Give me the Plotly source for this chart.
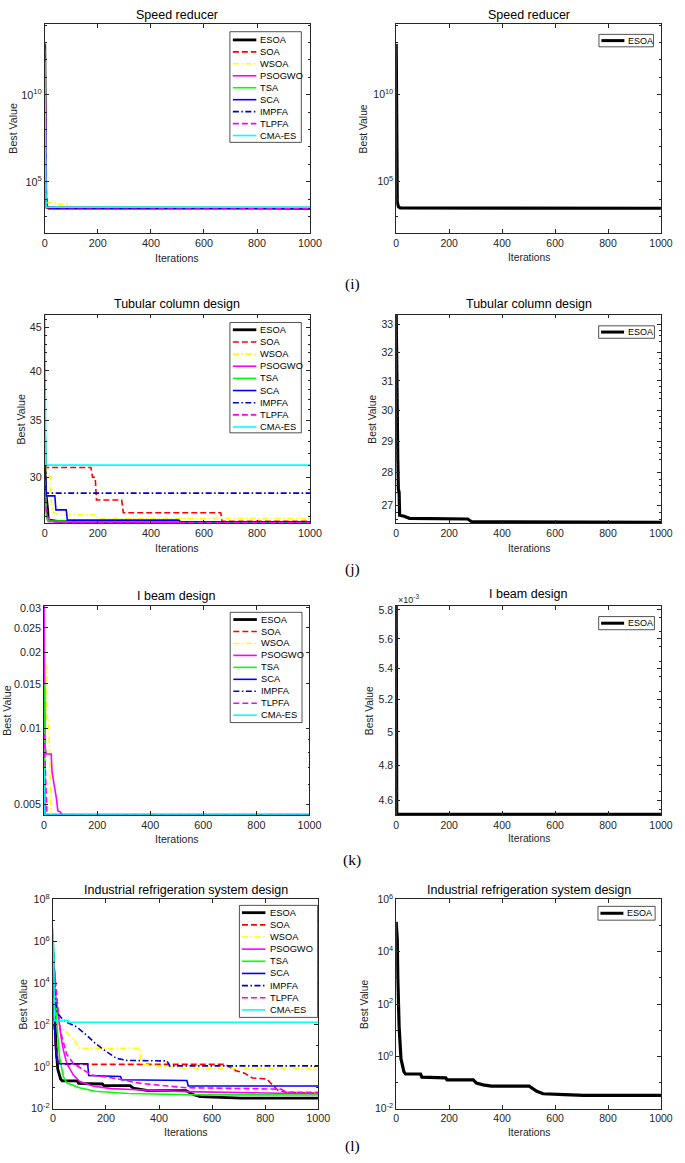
import numpy as np
import plotly.graph_objects as go

W, H = 685, 1163

ALGOS = ["ESOA", "SOA", "WSOA", "PSOGWO", "TSA", "SCA", "IMPFA", "TLPFA", "CMA-ES"]
COLORS = ["#000000", "#FF0000", "#FFFF00", "#FF00FF", "#00FF00",
          "#0000FF", "#0000D0", "#FF00FF", "#00FFFF"]
DASHES = ["solid", "6px,3px", "6px,2.5px,1.5px,2.5px", "solid", "solid",
          "solid", "6px,2.5px,1.5px,2.5px", "6px,3px", "solid"]
WIDTHS = [2.8, 1.6, 1.6, 1.6, 1.6, 1.6, 1.6, 1.6, 1.6]

X_TICKS = [0, 200, 400, 600, 800, 1000]

# convergence curves: (iterations, best value)
speed_reducer = {
    "ESOA": ([0, 2, 4, 8, 15, 1000], [8.7e12, 6e4, 7000, 3700, 3100, 2994]),
    "SOA": ([0, 3, 6, 12, 1000], [2e11, 1e6, 2e4, 3100, 3000]),
    "WSOA": ([0, 3, 5, 40, 45, 90, 100, 1000], [1e11, 3e5, 6200, 6200, 5000, 5000, 3400, 3100]),
    "PSOGWO": ([0, 3, 6, 1000], [8.7e12, 1e6, 3500, 3000]),
    "TSA": ([0, 3, 6, 1000], [5e10, 1e5, 3500, 3050]),
    "SCA": ([0, 2, 5, 15, 20, 1000], [3e11, 1e6, 3600, 3500, 3000, 2995]),
    "IMPFA": ([0, 3, 6, 1000], [1e11, 1e5, 3200, 3000]),
    "TLPFA": ([0, 3, 6, 1000], [4e12, 1e6, 3300, 3000]),
    "CMA-ES": ([0, 2, 5, 1000], [8e11, 1e6, 3500, 3400]),
}

tubular_column = {
    "ESOA": ([0, 3, 6, 8, 11, 13, 30, 50, 200, 205, 270, 285, 505, 525, 1000],
             [33.37, 28.6, 28.4, 27.5, 27.4, 26.71, 26.68, 26.62, 26.62, 26.6, 26.6,
              26.52, 26.52, 26.5, 26.5]),
    "SOA": ([0, 4, 174, 180, 190, 195, 290, 296, 663, 668, 1000],
            [31.0, 30.8, 30.8, 30.0, 30.0, 28.2, 28.2, 27.25, 27.25, 26.62, 26.62]),
    "WSOA": ([0, 5, 20, 25, 31, 56, 192, 200, 1000],
             [32.0, 30.1, 30.1, 28.0, 27.3, 27.1, 27.1, 26.82, 26.82]),
    "PSOGWO": ([0, 3, 8, 15, 1000], [30.5, 28.0, 26.9, 26.6, 26.52]),
    "TSA": ([0, 2, 6, 12, 510, 520, 1000], [31.0, 28.5, 27.0, 26.66, 26.64, 26.52, 26.51]),
    "SCA": ([0, 3, 6, 38, 42, 81, 85, 505, 510, 1000],
            [31.5, 29.0, 28.52, 28.52, 27.46, 27.46, 26.71, 26.71, 26.59, 26.59]),
    "IMPFA": ([0, 3, 8, 1000], [30.0, 29.0, 28.73, 28.73]),
    "TLPFA": ([0, 3, 8, 20, 50, 1000], [29.8, 28.0, 27.0, 26.7, 26.55, 26.53]),
    "CMA-ES": ([0, 4, 1000], [46.6, 31.0, 31.0]),
}

i_beam = {
    "ESOA": ([0, 2, 1000], [0.00583, 0.004523, 0.004523]),
    "SOA": ([0, 3, 1000], [0.0062, 0.004525, 0.004523]),
    "WSOA": ([0, 8, 10, 17, 27, 1000],
             [0.0177, 0.0177, 0.011, 0.011, 0.004525, 0.004523]),
    "PSOGWO": ([0, 4, 8, 27, 30, 40, 46, 52, 62, 68, 1000],
               [0.0306, 0.0085, 0.0079, 0.0079, 0.0067, 0.0059, 0.0053, 0.0047,
                0.00465, 0.004525, 0.004523]),
    "TSA": ([0, 2, 5, 1000], [0.0151, 0.0095, 0.004525, 0.004523]),
    "SCA": ([0, 2, 1000], [0.0055, 0.004525, 0.004523]),
    "IMPFA": ([0, 3, 1000], [0.0056, 0.004525, 0.004523]),
    "TLPFA": ([0, 4, 8, 11, 1000], [0.0095, 0.0075, 0.006, 0.004525, 0.004523]),
    "CMA-ES": ([0, 3, 1000], [0.0069, 0.004525, 0.004523]),
}

refrigeration = {
    "ESOA": ([0, 4, 6, 11, 18, 23, 29, 35, 92, 97, 144, 150, 187, 192, 291, 303, 328,
              359, 502, 531, 555, 635, 709, 1000],
             [1.4e5, 3e4, 1.1e3, 14, 0.8, 0.44, 0.26, 0.21, 0.21, 0.16, 0.16, 0.15, 0.15,
              0.126, 0.126, 0.095, 0.081, 0.072, 0.072, 0.046, 0.037, 0.034, 0.032, 0.032]),
    "SOA": ([0, 3, 6, 10, 18, 28, 50, 648, 690, 721, 752, 807, 826, 850, 881, 1000],
            [300, 100, 40, 12, 3, 1.4, 1.3, 1.3, 0.65, 0.5, 0.29, 0.26, 0.14, 0.072,
             0.06, 0.055]),
    "WSOA": ([2, 8, 15, 25, 43, 70, 89, 100, 328, 334, 440, 500, 1000],
             [2e3, 600, 150, 100, 55, 26, 13, 7.6, 7.6, 1.3, 1.0, 0.85, 0.85]),
    "PSOGWO": ([0, 10, 20, 30, 40, 52, 76, 100, 150, 220, 320, 500, 1000],
               [3e5, 3e3, 300, 30, 6, 1.5, 0.42, 0.2, 0.12, 0.09, 0.08, 0.065, 0.05]),
    "TSA": ([0, 8, 15, 25, 39, 52, 100, 160, 285, 530, 1000],
            [2e6, 1e4, 110, 3, 0.35, 0.17, 0.1, 0.068, 0.053, 0.046, 0.045]),
    "SCA": ([0, 3, 8, 12, 20, 131, 135, 255, 260, 505, 510, 1000],
            [1e6, 1e4, 30, 3, 1.4, 1.4, 0.38, 0.34, 0.24, 0.22, 0.12, 0.12]),
    "IMPFA": ([1, 8, 15, 30, 50, 90, 130, 160, 200, 240, 280, 430, 440, 1000],
              [1.2e6, 3e3, 400, 230, 140, 80, 30, 13, 5.5, 2.5, 2.0, 1.9, 1.1, 1.1]),
    "TLPFA": ([3, 15, 25, 33, 52, 76, 107, 145, 220, 330, 500, 860, 880, 1000],
              [1e5, 3e3, 100, 30, 4, 1.5, 0.8, 0.4, 0.3, 0.16, 0.1, 0.085, 0.06, 0.06]),
    "CMA-ES": ([0, 3, 6, 58, 60, 1000], [4e6, 3e5, 160, 160, 135, 135]),
}


def px(x):
    return x / W


def py(y):
    return 1 - y / H


def sup(e):
    return f"10<sup>{e}</sup>"


rows = [
    dict(title="Speed reducer", data=speed_reducer, top=16, bottom=228,
         left=(42.7, 314), title_y=(7, 7), xlab_y=(253, 253), ylab_x=(9.3, 369),
         tag="(i)", tag_y=279,
         yl=dict(range=[2.04, 14.08], tickvals=[1e5, 1e10], ticktext=[sup(5), sup(10)],
                 minor=[10.0 ** k for k in range(3, 15) if k not in (5, 10)]),
         yr=dict(range=[2.04, 14.08], tickvals=[1e5, 1e10], ticktext=[sup(5), sup(10)],
                 minor=[10.0 ** k for k in range(3, 15) if k not in (5, 10)]),
         leg=(232, 24, 305, 136, 32.3, 12.1, 235, 259, 261),
         rleg=(609.3, 26.7, 665, 39.3, 33)),
    dict(title="Tubular column design", data=tubular_column, top=310.3, bottom=521.7,
         left=(42.7, 314), title_y=(300, 300), xlab_y=(546.7, 546.7), ylab_x=(18, 378),
         tag="(j)", tag_y=568,
         yl=dict(range=[np.log10(26.47), np.log10(46.6)], tickvals=[30, 35, 40, 45],
                 ticktext=["30", "35", "40", "45"],
                 minor=[v for v in range(27, 47) if v % 5]),
         yr=dict(range=[np.log10(26.47), np.log10(33.37)],
                 tickvals=[27, 28, 29, 30, 31, 32, 33],
                 ticktext=["27", "28", "29", "30", "31", "32", "33"],
                 minor=[round(26.6 + 0.2 * k, 1) for k in range(34) if (k + 2) % 5]),
         leg=(232, 318.3, 305, 430, 325.7, 12.3, 235, 259, 261),
         rleg=(609, 321.7, 666, 334.3, 328)),
    dict(title="I beam design", data=i_beam, top=605, bottom=817,
         left=(42, 313.3), title_y=(595, 593), xlab_y=(841, 841), ylab_x=(4.5, 375),
         tag="(k)", tag_y=862,
         yl=dict(range=[np.log10(0.00452), np.log10(0.0306)],
                 tickvals=[0.005, 0.01, 0.015, 0.02, 0.025, 0.03],
                 ticktext=["0.005", "0.01", "0.015", "0.02", "0.025", "0.03"],
                 minor=[0.006, 0.007, 0.008, 0.009]),
         yr=dict(range=[np.log10(0.004519), np.log10(0.00583)],
                 tickvals=[4.6e-3, 4.8e-3, 5.0e-3, 5.2e-3, 5.4e-3, 5.6e-3, 5.8e-3],
                 ticktext=["4.6", "4.8", "5", "5.2", "5.4", "5.6", "5.8"],
                 minor=[round(4.55e-3 + 0.05e-3 * k, 6) for k in range(26) if (k + 1) % 4]),
         leg=(232.3, 611.7, 305.7, 723.3, 619, 12.1, 235.5, 259.5, 261.5),
         rleg=(609, 616, 666, 629.3, 622.7)),
    dict(title="Industrial refrigeration system design", data=refrigeration,
         top=902.3, bottom=1114, left=(51, 322.3), title_y=(892.7, 892.7),
         xlab_y=(1137.7, 1138), ylab_x=(20, 369), tag="(l)", tag_y=1152,
         yl=dict(range=[-2, 8], tickvals=[1e-2, 1, 1e2, 1e4, 1e6, 1e8],
                 ticktext=[sup(-2), sup(0), sup(2), sup(4), sup(6), sup(8)],
                 minor=[10.0 ** k for k in (-1, 1, 3, 5, 7)]),
         yr=dict(range=[-2, 6], tickvals=[1e-2, 1, 1e2, 1e4, 1e6],
                 ticktext=[sup(-2), sup(0), sup(2), sup(4), sup(6)],
                 minor=[10.0 ** k for k in (-1, 1, 3, 5)]),
         leg=(241.7, 908.3, 321.7, 1021.7, 915.7, 12.3, 244.3, 268.3, 270.7),
         rleg=(608.3, 909.3, 666.7, 923.3, 916.3)),
]

RIGHT = (402, 672.7)
AX = "#262626"
FONT = "Liberation Sans"

fig = go.Figure()
shapes = []
annotations = []
layout = {}

for r, row in enumerate(rows):
    for side in (0, 1):
        n = 2 * r + side + 1
        xname = "x" if n == 1 else f"x{n}"
        yname = "y" if n == 1 else f"y{n}"
        x0, x1 = row["left"] if side == 0 else RIGHT
        ycfg = row["yl"] if side == 0 else row["yr"]
        fs = 10.8 if side == 0 else 10.5

        algos = ALGOS if side == 0 else ALGOS[:1]
        for a in algos:
            k = ALGOS.index(a)
            it, val = row["data"][a]
            fig.add_trace(go.Scatter(
                x=it, y=val, mode="lines", name=a, showlegend=False,
                line=dict(color=COLORS[k], dash=DASHES[k],
                          width=WIDTHS[k] if side == 0 else 3.2),
                xaxis=xname, yaxis=yname))

        common = dict(showline=True, linecolor=AX, linewidth=0.8, mirror="allticks",
                      ticks="inside", ticklen=4, tickwidth=0.7, tickcolor=AX,
                      showgrid=False, zeroline=False,
                      tickfont=dict(family=FONT, size=fs, color=AX))
        layout["xaxis" if n == 1 else f"xaxis{n}"] = dict(
            common, domain=[px(x0), px(x1)], anchor=yname, range=[0, 1000],
            tickmode="array", tickvals=X_TICKS, ticktext=[str(v) for v in X_TICKS])
        layout["yaxis" if n == 1 else f"yaxis{n}"] = dict(
            common, domain=[py(row["bottom"]), py(row["top"])], anchor=xname,
            type="log", range=ycfg["range"], tickmode="array",
            tickvals=ycfg["tickvals"], ticktext=ycfg["ticktext"],
            minor=dict(ticks="inside", ticklen=2, tickwidth=0.6, tickcolor=AX,
                       tickmode="array", tickvals=ycfg["minor"]))

        cx = (x0 + x1) / 2
        cy = (row["top"] + row["bottom"]) / 2
        annotations.append(dict(
            text=row["title"], x=px(cx), y=py(row["title_y"][side]), xref="paper",
            yref="paper", showarrow=False, xanchor="center", yanchor="middle",
            font=dict(family=FONT, size=12.5, color="#000000")))
        annotations.append(dict(
            text="Iterations", x=px(cx), y=py(row["xlab_y"][side]), xref="paper",
            yref="paper", showarrow=False, xanchor="center", yanchor="middle",
            font=dict(family=FONT, size=10.6 if side == 0 else 10.3, color=AX)))
        annotations.append(dict(
            text="Best Value", x=px(row["ylab_x"][side]), y=py(cy), xref="paper",
            yref="paper", showarrow=False, textangle=-90, xanchor="center",
            yanchor="middle",
            font=dict(family=FONT, size=10.6 if side == 0 else 10.3, color=AX)))

    # legend of the comparison panel
    bx0, by0, bx1, by1, ey0, estep, lx0, lx1, tx = row["leg"]
    shapes.append(dict(type="rect", xref="paper", yref="paper", x0=px(bx0), x1=px(bx1),
                       y0=py(by1), y1=py(by0), line=dict(color=AX, width=0.8),
                       fillcolor="white"))
    for k, a in enumerate(ALGOS):
        ey = ey0 + k * estep
        shapes.append(dict(type="line", xref="paper", yref="paper", x0=px(lx0), x1=px(lx1),
                           y0=py(ey), y1=py(ey),
                           line=dict(color=COLORS[k], dash=DASHES[k], width=WIDTHS[k])))
        annotations.append(dict(text=a, x=px(tx), y=py(ey), xref="paper", yref="paper",
                                showarrow=False, xanchor="left", yanchor="middle",
                                font=dict(family=FONT, size=9.3, color="#000000")))

    # legend of the ESOA-only panel
    bx0, by0, bx1, by1, ey = row["rleg"]
    shapes.append(dict(type="rect", xref="paper", yref="paper", x0=px(bx0), x1=px(bx1),
                       y0=py(by1), y1=py(by0), line=dict(color=AX, width=0.8),
                       fillcolor="white"))
    shapes.append(dict(type="line", xref="paper", yref="paper", x0=px(bx0 + 2.5),
                       x1=px(bx0 + 26), y0=py(ey), y1=py(ey),
                       line=dict(color="#000000", width=3)))
    annotations.append(dict(text="ESOA", x=px(bx0 + 27.5), y=py(ey), xref="paper",
                            yref="paper", showarrow=False, xanchor="left",
                            yanchor="middle",
                            font=dict(family=FONT, size=9, color="#000000")))

    annotations.append(dict(text=row["tag"], x=px(357), y=py(row["tag_y"]), xref="paper",
                            yref="paper", showarrow=False, xanchor="center",
                            yanchor="middle",
                            font=dict(family="Liberation Serif", size=15.5, color="#000000")))

annotations.append(dict(text="\u00d710<sup>-3</sup>", x=px(402), y=py(598), xref="paper",
                        yref="paper", showarrow=False, xanchor="left", yanchor="middle",
                        font=dict(family=FONT, size=9, color=AX)))

fig.update_layout(
    width=W, height=H, autosize=False,
    margin=dict(l=0, r=0, t=0, b=0),
    paper_bgcolor="white", plot_bgcolor="white",
    showlegend=False,
    shapes=shapes, annotations=annotations,
    **layout,
)

# pin the figure to the window corner so the page margin does not shift it
pin = ("var d=document.getElementById('{plot_id}');"
       "d.style.position='fixed';d.style.left='0px';d.style.top='0px';"
       "document.body.style.margin='0';"
       "document.documentElement.style.overflow='hidden';")
fig.write_html("out.html", post_script=pin, config={"displayModeBar": False})
